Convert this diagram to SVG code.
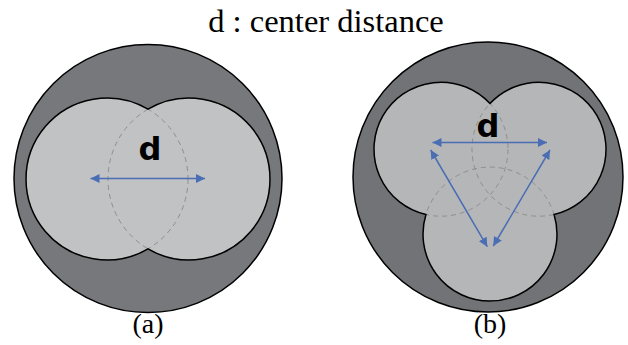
<svg xmlns="http://www.w3.org/2000/svg" width="628" height="345" viewBox="0 0 628 345">
<style>
.outer{stroke:#000;stroke-width:1.5}
.lobe{stroke:none}
.edge{fill:none;stroke:#000;stroke-width:1.5}
.dash{fill:none;stroke:#8e8e90;stroke-width:1;stroke-dasharray:5 4}
.arrow{fill:none;stroke:#4a6db4;stroke-width:1.5;marker-start:url(#ah);marker-end:url(#ah)}
.d{font-family:"DejaVu Sans",sans-serif;font-weight:bold;font-size:32px;fill:#000;text-anchor:middle}
.lab{font-family:"Liberation Serif","Times New Roman",serif;font-size:28px;fill:#000;text-anchor:middle}
.title{font-family:"Liberation Serif","Times New Roman",serif;font-size:32.5px;fill:#000;text-anchor:middle}
</style>
<defs>
<marker id="ah" viewBox="0 0 10 10" refX="10" refY="5" markerUnits="userSpaceOnUse" markerWidth="9" markerHeight="9" orient="auto-start-reverse">
<path d="M0,0 L10,5 L0,10 z" fill="#4a6db4"/>
</marker>
</defs>
<rect width="628" height="345" fill="#fff"/>
<text class="title" x="326" y="32">d : center distance</text>

<g id="panel-a">
<circle class="outer" cx="148" cy="178.5" r="134" fill="#77787b"/>
<path class="lobe" fill="#c1c2c4" d="M148,109.14 A81,81 0 1,0 148,248.86 A81,81 0 1,0 148,109.14 Z"/>
<circle class="dash" cx="107" cy="179" r="81"/>
<circle class="dash" cx="189" cy="179" r="81"/>
<path class="edge" d="M148,109.14 A81,81 0 1,0 148,248.86 A81,81 0 1,0 148,109.14 Z"/>
<text class="d" x="150" y="160">d</text>
<text class="lab" x="148" y="333">(a)</text>
</g>

<g id="panel-b">
<circle class="outer" cx="488" cy="177" r="135" fill="#727376"/>
<path class="lobe" fill="#b5b6b8" d="M490,103.52 A67,67 0 1,0 425.93,214.49 A67,67 0 1,0 554.07,214.49 A67,67 0 1,0 490,103.52 Z"/>
<circle class="dash" cx="441" cy="149.21" r="67"/>
<circle class="dash" cx="539" cy="149.21" r="67"/>
<circle class="dash" cx="490" cy="234.08" r="67"/>
<path class="edge" d="M490,103.52 A67,67 0 1,0 425.93,214.49 A67,67 0 1,0 554.07,214.49 A67,67 0 1,0 490,103.52 Z"/>
<text class="d" x="488" y="137">d</text>
<text class="lab" x="490" y="333">(b)</text>
</g>

<g id="connectors">
<line class="arrow" x1="90.5" y1="178.5" x2="205" y2="178.5"/>
<line class="arrow" x1="432.5" y1="142.5" x2="547" y2="142.5"/>
<line class="arrow" x1="430.7" y1="150" x2="487.3" y2="246.7"/>
<line class="arrow" x1="550" y1="150" x2="493.3" y2="246"/>
</g>
</svg>
